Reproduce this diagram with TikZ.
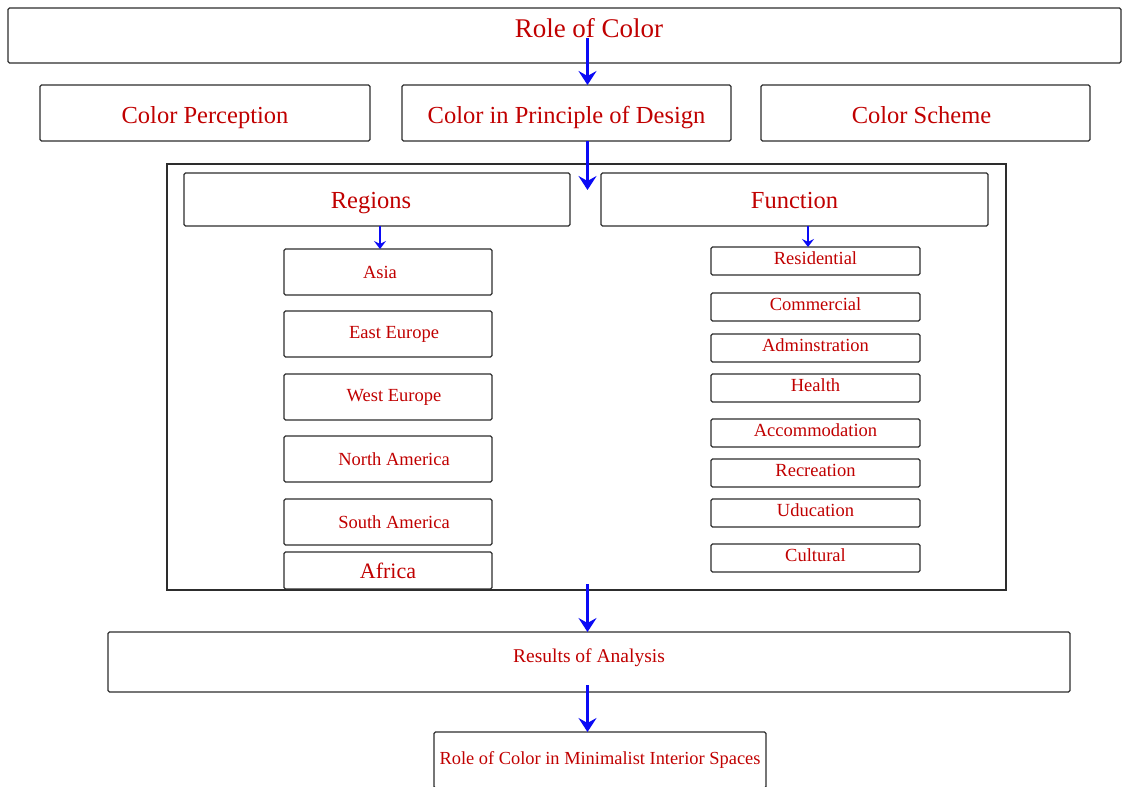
\documentclass[tikz,border=0pt]{standalone}
\usepackage{fontspec}
\setmainfont{Liberation Serif}
\usepackage{xcolor}
\usepackage{tikz}
\usetikzlibrary{arrows.meta, positioning, calc}
\definecolor{txtred}{RGB}{192,0,0}
\definecolor{arrblue}{RGB}{10,10,245}
\definecolor{edgegray}{RGB}{45,45,45}
\tikzset{
  titlebox/.style={rectangle, draw=edgegray, line width=1.2pt, rounded corners=1.5pt, inner sep=0pt, outer sep=0pt, text=txtred, font=\fontsize{27}{30}\selectfont},
  headbox/.style={rectangle, draw=edgegray, line width=1.2pt, rounded corners=1.5pt, inner sep=0pt, outer sep=0pt, text height=38pt, text depth=18pt, text=txtred, font=\fontsize{24.5}{28}\selectfont},
  framebox/.style={rectangle, draw=edgegray, line width=1.2pt, inner sep=0pt, outer sep=0pt},
  itembox/.style={rectangle, draw=edgegray, line width=1.2pt, rounded corners=1.5pt, inner sep=0pt, outer sep=0pt, minimum width=208pt, minimum height=46pt, text=txtred, font=\fontsize{18.5}{21}\selectfont},
  funcbox/.style={rectangle, draw=edgegray, line width=1.2pt, rounded corners=1.5pt, inner sep=0pt, outer sep=0pt, minimum width=209pt, text height=17pt, text depth=11pt, text=txtred, font=\fontsize{18.5}{21}\selectfont},
  resbox/.style={rectangle, draw=edgegray, line width=1.2pt, rounded corners=1.5pt, inner sep=0pt, outer sep=0pt, text=txtred, font=\fontsize{19.5}{22}\selectfont},
  bigarr/.style={-{Stealth[length=14pt, width=18pt, inset=5pt]}, line width=2.8pt, draw=arrblue},
  smallarr/.style={-{Stealth[length=8pt, width=12pt, inset=3pt]}, line width=1.8pt, draw=arrblue},
}
\begin{document}
\begin{tikzpicture}[x=1pt, y=-1pt]
  \useasboundingbox (0,0) rectangle (1122,787);

  % Top level
  \node[titlebox, minimum width=1113pt, text height=29pt, text depth=26pt] (title) at (564.5,35.5) {\hspace*{49pt}Role of Color};
  \coordinate (spine) at (587.5,0);

  % Aspects of color
  \node[headbox, minimum width=329pt, below=22pt of title, xshift=2pt] (design) {Color in Principle of Design};
  \node[headbox, minimum width=330pt, left=32pt of design] (percep) {Color Perception};
  \node[headbox, minimum width=329pt, right=30pt of design] (scheme) {Color Scheme\hspace*{8pt}};

  % Study frame
  \node[framebox, minimum width=839pt, minimum height=426pt, below=23pt of design, xshift=20pt] (frame) {};
  \node[headbox, minimum width=386pt, text height=35pt, below right=9pt and 17pt of frame.north west] (regions) {Regions\hspace*{12pt}};
  \node[headbox, minimum width=387pt, text height=35pt, right=31pt of regions] (function) {Function};

  % Regions list
  \node[itembox, below=23pt of regions, xshift=11pt] (asia) {Asia\hspace*{16pt}};
  \node[itembox, below=16pt of asia] (eeur) {\hspace*{12pt}East Europe};
  \node[itembox, below=17pt of eeur] (weur) {\hspace*{12pt}West Europe};
  \node[itembox, below=16pt of weur] (namer) {\hspace*{12pt}North America};
  \node[itembox, below=17pt of namer] (samer) {\hspace*{12pt}South America};
  \node[itembox, minimum height=37pt, below=7pt of samer, font=\fontsize{22}{25}\selectfont] (africa) {Africa};

  % Function list
  \node[funcbox, below=21pt of function, xshift=21pt] (resid) {Residential};
  \node[funcbox, below=18pt of resid] (comm) {Commercial};
  \node[funcbox, below=13pt of comm] (admin) {Adminstration};
  \node[funcbox, below=12pt of admin] (health) {Health};
  \node[funcbox, below=17pt of health] (accom) {Accommodation};
  \node[funcbox, below=12pt of accom] (recr) {Recreation};
  \node[funcbox, below=12pt of recr] (educ) {Uducation};
  \node[funcbox, below=17pt of educ] (cult) {Cultural};

  % Results
  \node[resbox, minimum width=962pt, text height=30.5pt, text depth=29.5pt, below=42pt of frame, xshift=2.5pt] (results) {Results of Analysis};
  \node[resbox, minimum width=332pt, minimum height=56pt, below=40pt of results, xshift=11pt, font=\fontsize{18.4}{21}\selectfont] (final) {Role of Color in Minimalist Interior Spaces};

  % Arrows
  \draw[bigarr] ($(spine |- title.center)+(0,2.5)$) -- (spine |- design.north);
  \draw[bigarr] (spine |- design.south) -- ($(spine |- regions.center)+(0,-9.5)$);
  \draw[bigarr] ($(spine |- frame.south)+(0,-6)$) -- (spine |- results.north);
  \draw[bigarr] ($(spine |- results.south)+(0,-7)$) -- (spine |- final.north);
  \coordinate (rarr) at ($(regions.south)+(3,0)$);
  \coordinate (farr) at ($(function.south)+(13.5,0)$);
  \draw[smallarr] (rarr) -- (rarr |- asia.north);
  \draw[smallarr] (farr) -- (farr |- resid.north);
\end{tikzpicture}
\end{document}
